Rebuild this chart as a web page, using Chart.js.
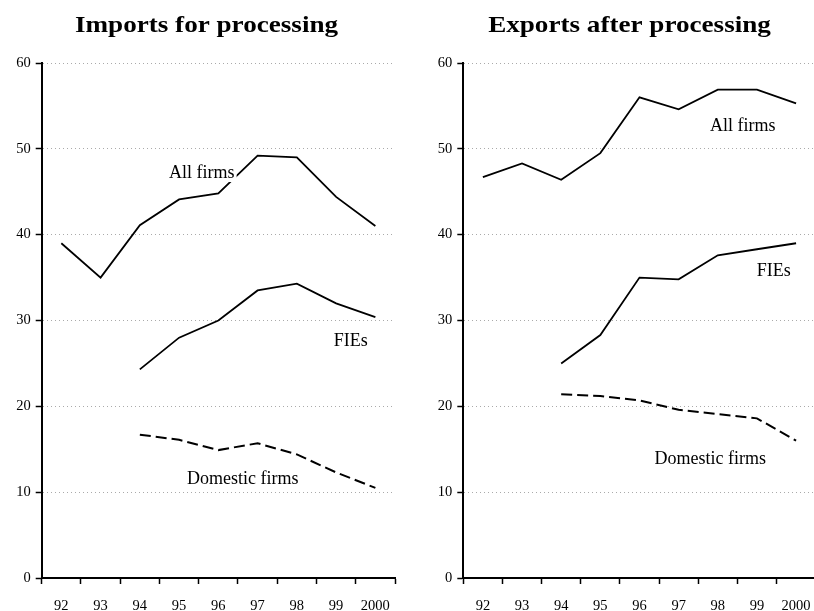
<!DOCTYPE html>
<html><head><meta charset="utf-8">
<script src="https://cdn.jsdelivr.net/npm/chart.js@4.4.1/dist/chart.umd.min.js"></script>
<style>
html,body{margin:0;padding:0;background:#fff;overflow:hidden;width:814px;height:611px;position:relative}
#c1{position:absolute;left:0;top:0}
#c2{position:absolute;left:404px;top:0}
</style></head>
<body>
<canvas id="c1" width="404" height="611"></canvas>
<canvas id="c2" width="420" height="611"></canvas>
<script>
const years = ['92','93','94','95','96','97','98','99','2000'];
const impAll = [39.0,35.0,41.1,44.1,44.8,49.2,49.0,44.4,41.0];
const impFIE = [null,null,24.3,28.0,30.0,33.5,34.3,32.0,30.4];
const impDom = [null,null,16.7,16.1,14.9,15.7,14.4,12.3,10.5];
const expAll = [46.7,48.3,46.4,49.5,56.0,54.6,56.9,56.9,55.3];
const expFIE = [null,null,25.0,28.3,35.0,34.8,37.6,38.3,39.0];
const expDom = [null,null,21.4,21.2,20.7,19.6,19.1,18.6,16.0];
const yMin = 0, yMax = 60, yStep = 10;
const titles = ['Imports for processing','Exports after processing'];
const seriesNames = ['All firms','FIEs','Domestic firms'];
// label anchors in data space: [category index, value at baseline]
const impLabelPos = [[3.58,46.6],[7.37,27.0],[4.62,10.95]];
const expLabelPos = [[6.64,52.1],[7.43,35.2],[5.81,13.3]];

const SERIF = "'Liberation Serif','Times New Roman',serif";

function makeChart(id, title, all, fie, dom, labelPos, yWidth, padRight, titleX) {
  const labelPlugin = {
    id: 'labels' + id,
    afterDatasetsDraw(chart) {
      const ctx = chart.ctx, xs = chart.scales.x, ys = chart.scales.y;
      ctx.save();
      ctx.font = '18px ' + SERIF;
      ctx.textAlign = 'center';
      ctx.textBaseline = 'alphabetic';
      seriesNames.forEach((t, i) => {
        const px = xs.getPixelForValue(labelPos[i][0]);
        const py = ys.getPixelForValue(labelPos[i][1]);
        const w = ctx.measureText(t).width;
        ctx.fillStyle = '#fff';
        ctx.fillRect(px - w/2 - 2, py - 15, w + 4, 19);
        ctx.fillStyle = '#000';
        ctx.fillText(t, px, py);
      });
      ctx.restore();
    },
    afterDraw(chart) {
      const ctx = chart.ctx;
      ctx.save();
      ctx.font = 'bold 24px ' + SERIF;
      ctx.textAlign = 'center';
      ctx.textBaseline = 'alphabetic';
      ctx.fillStyle = '#000';
      ctx.translate(titleX, 31.7);
      ctx.scale(1.13, 1);
      ctx.fillText(title, 0, 0);
      ctx.restore();
    }
  };
  const line = (data, dash) => ({
    data, borderColor: '#000', borderWidth: dash ? 2 : 1.8,
    borderDash: dash || [], pointRadius: 0, tension: 0, fill: false, spanGaps: false
  });
  return new Chart(document.getElementById(id), {
    type: 'line',
    data: { labels: years, datasets: [line(all), line(fie), line(dom, [11,5])] },
    options: {
      responsive: false, animation: false, devicePixelRatio: 1,
      layout: { padding: { top: 63, right: padRight, bottom: 0, left: 0 } },
      plugins: { legend: { display: false }, tooltip: { enabled: false }, title: { display: false } },
      scales: {
        x: {
          type: 'category', offset: true,
          grid: { offset: true, drawOnChartArea: false, drawTicks: true, tickLength: 6, tickColor: '#000', tickWidth: 1.5 },
          border: { display: true, color: '#000', width: 2 },
          ticks: { color: '#000', font: { family: SERIF, size: 14.5 }, padding: 13, maxRotation: 0, autoSkip: false },
          afterFit: s => { s.height = 33; }
        },
        y: {
          min: yMin, max: yMax,
          ticks: { stepSize: yStep, color: '#000', font: { family: SERIF, size: 14.5 }, padding: 5 },
          grid: { color: '#aaa', lineWidth: 1, drawTicks: true, tickLength: 6, tickColor: '#000', tickWidth: 1.5, tickBorderDash: [] },
          border: { display: true, color: '#000', width: 2, dash: [1,3] },
          afterFit: s => { s.width = yWidth; }
        }
      }
    },
    plugins: [labelPlugin]
  });
}

makeChart('c1', titles[0], impAll, impFIE, impDom, impLabelPos, 41.7, 9, 206.5);
makeChart('c2', titles[1], expAll, expFIE, expDom, expLabelPos, 59.3, 7.4, 225.5);
</script>
</body></html>
